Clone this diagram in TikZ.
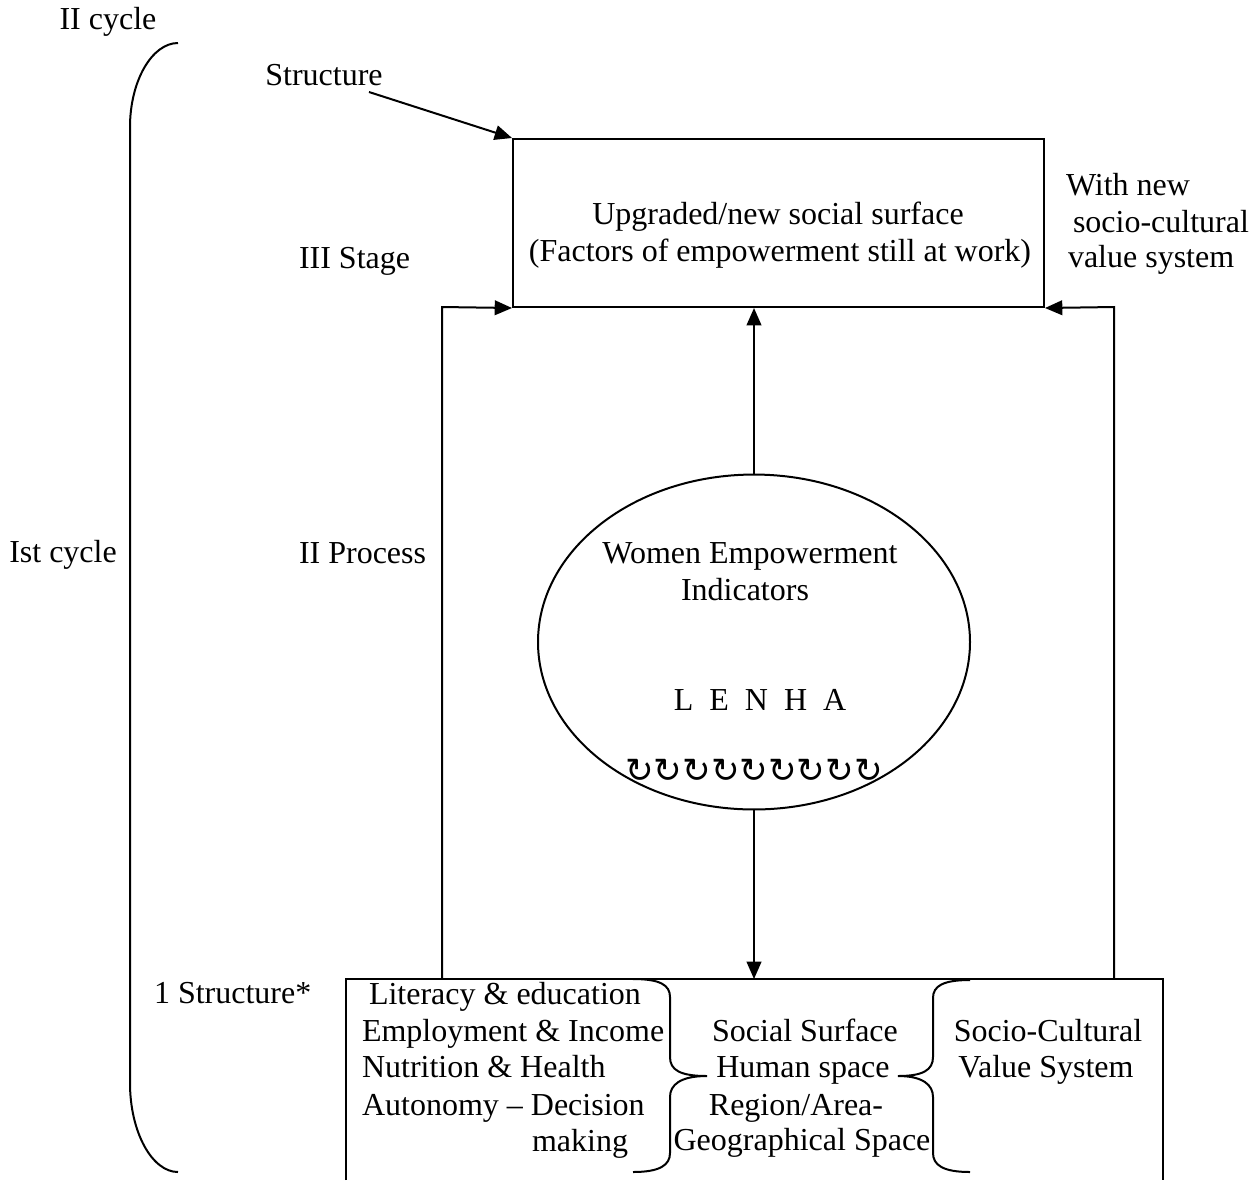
\documentclass[tikz,border=0pt]{standalone}
\usepackage{fontspec}
\setmainfont{Liberation Serif}
\newfontfamily\djv{DejaVu Sans}
\usetikzlibrary{arrows.meta,shapes.geometric}
\begin{document}
\begin{tikzpicture}[x=0.375pt,y=-0.375pt,line width=0.75pt,
  lbl/.style={font=\fontsize{12}{14}\selectfont,inner sep=0pt,anchor=base},
  lblw/.style={lbl,anchor=base west},
  arr/.style={-{Triangle[length=6.5pt,width=5.5pt]}},
  boxst/.style={draw,rectangle,inner sep=0pt}]
\useasboundingbox (0,0) rectangle (1253,1180);

% boxes and ellipse
\node[boxst,minimum width=199.1pt,minimum height=63pt] (top) at (778.5,223) {};
\node[draw,ellipse,inner sep=0pt,minimum width=162pt,minimum height=125.6pt] (ell) at (754,642) {};
\coordinate (bl) at (346,1180);
\coordinate (btl) at (346,979);
\coordinate (btr) at (1163,979);
\coordinate (br) at (1163,1180);
\draw (bl) -- (btl) -- (btr) -- (br);

% connectors
\coordinate (lfoot) at (442,979);
\coordinate (lknee) at (442,307);
\coordinate (rfoot) at (1114,979);
\coordinate (rknee) at (1114,307);
\draw[arr] (lfoot) -- (lknee) -- (top.south west);
\draw[arr] (rfoot) -- (rknee) -- (top.south east);
\draw[arr] (ell.north) -- (ell.north |- top.south);
\draw[arr] (ell.south) -- (ell.south |- btl);

% structure arrow
\node[lbl] (struct) at (324,85) {Structure};
\coordinate (sa) at (369,92);
\draw[arr] (sa) -- (top.north west);

% big left brace
\draw (178,43) .. controls (152,43) and (130,81) .. (130,127) -- (130,1083)
  .. controls (130,1132) and (152,1172) .. (178,1172);

% braces inside bottom box
\draw (633,979) .. controls (660,979) and (670,985) .. (670,997) -- (670,1057)
  .. controls (670,1070) and (680,1076) .. (707,1076)
  .. controls (680,1076) and (670,1085) .. (670,1097) -- (670,1153)
  .. controls (670,1165) and (660,1172) .. (633,1172);
\draw (970,980) .. controls (943,980) and (933,986) .. (933,998) -- (933,1057)
  .. controls (933,1070) and (923,1076) .. (898,1076)
  .. controls (923,1076) and (933,1085) .. (933,1097) -- (933,1153)
  .. controls (933,1165) and (943,1172) .. (970,1172);

% labels
\node[lbl] (c2) at (108,29) {II cycle};
\node[lbl] (c1) at (63,562) {Ist cycle};
\node[lblw] (stage) at (298,268) {III Stage};
\node[lblw] (proc) at (298,563) {II Process};
\node[lblw] (s1) at (153,1003) {1 Structure*};

\node[lbl] (t1) at (778,224) {Upgraded/new social surface};
\node[lbl] (t2) at (780,261) {(Factors of empowerment still at work)};
\node[lblw] (w1) at (1065,195) {With new};
\node[lblw] (w2) at (1072,232) {socio-cultural};
\node[lblw] (w3) at (1067,267) {value system};

\node[lbl] (e1) at (750,563) {Women Empowerment};
\node[lbl] (e2) at (745,600) {Indicators};
\node[lbl] (e3) at (760,710) {L\ \ E\ \ N\ \ H\ \ A};
\node[inner sep=0pt,anchor=base,font=\djv\fontsize{12.8}{12.8}\selectfont] (e4) at (754,782) {↻↻↻↻↻↻↻↻↻};

\node[lblw] (a1) at (368,1004) {Literacy \& education};
\node[lblw] (a2) at (361,1041) {Employment \& Income};
\node[lblw] (a3) at (361,1077) {Nutrition \& Health};
\node[lblw] (a4) at (361,1115) {Autonomy -- Decision};
\node[lblw] (a5) at (531,1151) {making};

\node[lbl] (m1) at (805,1041) {Social Surface};
\node[lbl] (m2) at (803,1077) {Human space};
\node[lbl] (m3) at (796,1115) {Region/Area-};
\node[lbl] (m4) at (802,1150) {Geographical Space};

\node[lbl] (r1) at (1048,1041) {Socio-Cultural};
\node[lbl] (r2) at (1046,1077) {Value System};
\end{tikzpicture}
\end{document}
